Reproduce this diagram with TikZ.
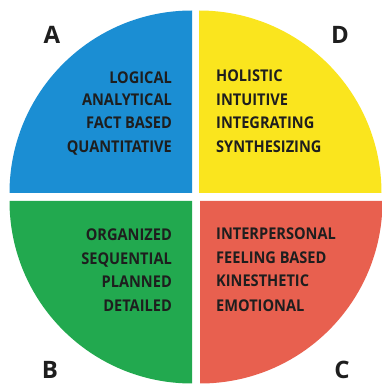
\documentclass[tikz,border=0pt]{standalone}
\usepackage{fontspec}
\setmainfont{Open Sans}
\newfontfamily\traitfont[FakeStretch=0.9]{Open Sans}
\definecolor{quadA}{HTML}{1B8ED3}
\definecolor{quadD}{HTML}{FAE51E}
\definecolor{quadB}{HTML}{22A94F}
\definecolor{quadC}{HTML}{E8604F}
\definecolor{ink}{HTML}{1E1E1E}
\begin{document}
\begin{tikzpicture}[x=1pt,y=1pt,
  trait/.style={inner sep=0pt, text=ink, font=\traitfont\fontsize{16.2}{16.2}\selectfont\bfseries},
  tag/.style={inner sep=0pt, text=ink, font=\fontsize{24}{24}\selectfont\bfseries}]
\useasboundingbox (0,0) rectangle (382,384);
% four quarter discs, separated by a white cross
\fill[quadA] (192,191) -- ++(-182.5,0) arc[start angle=180,end angle=90,radius=182.5] -- cycle;
\fill[quadD] (199,191) -- ++(0,182.5) arc[start angle=90,end angle=0,radius=182.5] -- cycle;
\fill[quadB] (192,183) -- ++(-182.5,0) arc[start angle=180,end angle=270,radius=182.5] -- cycle;
\fill[quadC] (200,183) -- ++(0,-182.5) arc[start angle=270,end angle=360,radius=182.5] -- cycle;
% quadrant letters
\node[tag,anchor=base] (lA) at (52,340.5) {A};
\node[tag,anchor=base] (lD) at (340,341) {D};
\node[tag,anchor=base] (lB) at (50,5.5) {B};
\node[tag,anchor=base] (lC) at (342,5.5) {C};
% A: upper left
\node[trait,anchor=base east] (a1) at (172,301) {LOGICAL};
\node[trait,anchor=base east] (a2) at (172,278) {ANALYTICAL};
\node[trait,anchor=base east] (a3) at (172,255) {FACT BASED};
\node[trait,anchor=base east] (a4) at (172,231) {QUANTITATIVE};
% D: upper right
\node[trait,anchor=base west] (d1) at (216,302) {HOLISTIC};
\node[trait,anchor=base west] (d2) at (216,278) {INTUITIVE};
\node[trait,anchor=base west] (d3) at (216,255) {INTEGRATING};
\node[trait,anchor=base west] (d4) at (216,231) {SYNTHESIZING};
% B: lower left
\node[trait,anchor=base east] (b1) at (172,143) {ORGANIZED};
\node[trait,anchor=base east] (b2) at (172,120) {SEQUENTIAL};
\node[trait,anchor=base east] (b3) at (172,96) {PLANNED};
\node[trait,anchor=base east] (b4) at (172,72) {DETAILED};
% C: lower right
\node[trait,anchor=base west] (c1) at (216,145) {INTERPERSONAL};
\node[trait,anchor=base west] (c2) at (216,121) {FEELING BASED};
\node[trait,anchor=base west] (c3) at (216,97) {KINESTHETIC};
\node[trait,anchor=base west] (c4) at (216,73) {EMOTIONAL};
\end{tikzpicture}
\end{document}
